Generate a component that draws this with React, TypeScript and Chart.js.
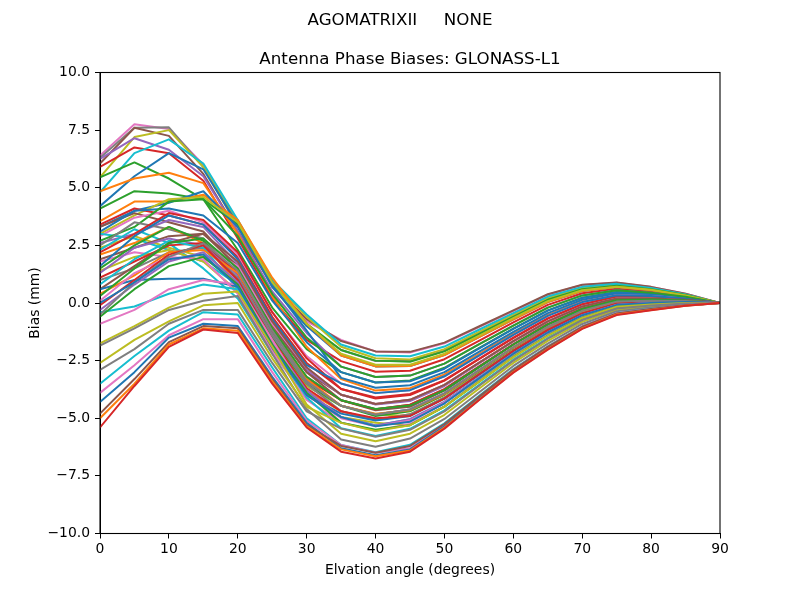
import React, { useEffect, useRef } from "react";
import { Chart, registerables } from "chart.js";

Chart.register(...registerables);

const elevation = [0, 5, 10, 15, 20, 25, 30, 35, 40, 45, 50, 55, 60, 65, 70, 75, 80, 85, 90];
const yTicks = [-10, -7.5, -5, -2.5, 0, 2.5, 5, 7.5, 10];
const xTicks = [0, 10, 20, 30, 40, 50, 60, 70, 80, 90];

// group A: high start, early peak
const a1 = [6.4, 7.75, 7.55, 6.0, 3.4, 0.9, -0.8, -1.6, -2.1, -2.15, -1.75, -1.05, -0.35, 0.36, 0.78, 0.88, 0.69, 0.4, 0];
const a2 = [6.3, 7.6, 7.62, 5.9, 3.3, 0.7, -1.0, -2.04, -2.52, -2.52, -2.07, -1.32, -0.57, 0.16, 0.61, 0.76, 0.6, 0.35, 0];
const a3 = [6.05, 7.6, 7.25, 5.6, 3.1, 0.8, -0.7, -1.65, -2.1, -2.12, -1.72, -1.02, -0.32, 0.38, 0.79, 0.89, 0.7, 0.4, 0];
const a4 = [5.45, 7.2, 7.5, 5.9, 3.5, 1.0, -0.6, -1.9, -2.4, -2.45, -2.0, -1.25, -0.5, 0.22, 0.66, 0.8, 0.63, 0.36, 0];
const a5 = [5.9, 6.75, 6.5, 5.3, 2.8, 0.2, -1.6, -2.52, -2.98, -2.94, -2.44, -1.64, -0.84, -0.08, 0.42, 0.62, 0.5, 0.3, 0];
const a6 = [6.25, 7.15, 6.65, 5.5, 3.1, 0.5, -1.3, -2.76, -3.21, -3.15, -2.63, -1.8, -0.98, -0.2, 0.33, 0.55, 0.45, 0.27, 0];
const a7 = [4.8, 6.5, 7.1, 6.05, 3.6, 1.0, -0.5, -1.8, -2.28, -2.31, -1.89, -1.16, -0.44, 0.28, 0.7, 0.83, 0.65, 0.37, 0];
const a8 = [5.45, 6.1, 5.4, 4.5, 2.3, -0.2, -2.0, -3.0, -3.45, -3.36, -2.81, -1.96, -1.11, -0.32, 0.23, 0.48, 0.4, 0.24, 0];
const a9 = [4.2, 5.5, 6.5, 5.8, 3.4, 0.7, -1.0, -2.28, -2.75, -2.73, -2.26, -1.48, -0.71, 0.04, 0.52, 0.69, 0.55, 0.32, 0];
const a10 = [4.85, 5.4, 5.65, 5.2, 3.0, 0.3, -1.9, -3.3, -3.8, -3.7, -3.1, -2.22, -1.33, -0.52, 0.07, 0.36, 0.31, 0.2, 0];

// group B
const b1 = [4.1, 4.85, 4.75, 4.5, 3.4, 0.9, -0.9, -2.04, -2.5, -2.55, -2.1, -1.35, -0.6, 0.14, 0.6, 0.75, 0.6, 0.35, 0];
const b2 = [3.55, 4.4, 4.4, 4.7, 3.6, 1.1, -0.9, -2.28, -2.75, -2.73, -2.26, -1.48, -0.71, 0.04, 0.52, 0.69, 0.55, 0.32, 0];
const b3 = [3.3, 4.0, 4.35, 4.85, 3.3, 0.8, -1.2, -3.25, -3.68, -3.57, -3.0, -2.12, -1.25, -0.44, 0.14, 0.41, 0.35, 0.22, 0];
const b4 = [3.0, 3.8, 4.5, 4.6, 3.5, 0.9, -0.9, -2.2, -2.68, -2.68, -2.2, -1.43, -0.66, 0.08, 0.55, 0.71, 0.57, 0.33, 0];
const b5 = [3.4, 4.1, 3.8, 3.4, 2.0, -0.6, -2.6, -3.73, -4.14, -3.99, -3.37, -2.44, -1.52, -0.68, -0.06, 0.27, 0.25, 0.17, 0];
const b6 = [3.3, 3.9, 3.5, 3.1, 1.5, -1.0, -3.0, -3.98, -4.38, -4.2, -3.55, -2.6, -1.65, -0.8, -0.15, 0.2, 0.2, 0.14, 0];
const b7 = [3.1, 4.0, 4.1, 3.8, 2.6, 0.1, -1.7, -3.0, -3.45, -3.4, -2.85, -1.98, -1.12, -0.33, 0.22, 0.47, 0.4, 0.24, 0];
const b8 = [2.9, 3.7, 4.0, 3.5, 2.1, -0.4, -2.3, -3.49, -3.91, -3.78, -3.18, -2.28, -1.38, -0.56, 0.04, 0.34, 0.3, 0.19, 0];
const b9 = [3.0, 2.8, 2.3, 1.8, 0.8, -1.6, -3.6, -4.46, -4.84, -4.62, -3.92, -2.92, -1.92, -1.04, -0.34, 0.06, 0.1, 0.09, 0];
const b10 = [2.7, 3.3, 4.4, 4.5, 2.9, 0.4, -1.5, -2.76, -3.21, -3.15, -2.63, -1.8, -0.98, -0.2, 0.33, 0.55, 0.45, 0.27, 0];

// group C
const c1 = [2.6, 3.0, 3.6, 3.3, 1.7, -0.9, -2.9, -3.98, -4.4, -4.25, -3.6, -2.62, -1.66, -0.8, -0.15, 0.2, 0.2, 0.14, 0];
const c2 = [2.5, 3.5, 3.2, 2.8, 1.2, -1.3, -3.2, -4.22, -4.61, -4.41, -3.74, -2.76, -1.79, -0.92, -0.25, 0.13, 0.15, 0.11, 0];
const c3 = [2.4, 2.9, 2.4, 2.0, 0.9, -1.6, -3.6, -4.46, -4.84, -4.9, -4.1, -3.0, -1.95, -1.05, -0.35, 0.05, 0.1, 0.09, 0];
const c4 = [2.3, 3.2, 2.6, 1.5, 0.2, -2.2, -4.0, -4.95, -5.31, -5.04, -4.29, -3.24, -2.19, -1.28, -0.53, -0.08, 0.0, 0.04, 0];
const c5 = [2.2, 3.0, 3.9, 3.6, 2.2, -0.4, -2.4, -3.73, -4.1, -3.95, -3.35, -2.42, -1.5, -0.67, -0.05, 0.28, 0.26, 0.17, 0];
const c6 = [2.1, 2.6, 3.3, 2.6, 0.8, -1.8, -3.8, -4.7, -5.07, -4.83, -4.11, -3.08, -2.06, -1.16, -0.44, -0.01, 0.05, 0.06, 0];
const c7 = [1.9, 2.4, 2.9, 3.0, 1.6, -1.0, -3.0, -4.22, -4.65, -4.5, -3.8, -2.8, -1.8, -0.93, -0.26, 0.12, 0.15, 0.11, 0];
const c8 = [1.8, 2.2, 2.0, 2.5, 1.6, -0.9, -2.8, -3.98, -4.38, -4.2, -3.55, -2.6, -1.65, -0.8, -0.15, 0.2, 0.2, 0.14, 0];
const c9 = [1.6, 2.9, 3.8, 3.4, 1.9, -0.7, -2.7, -3.49, -3.91, -3.78, -3.18, -2.28, -1.38, -0.56, 0.04, 0.34, 0.3, 0.19, 0];
const c10 = [1.5, 2.5, 3.3, 2.7, 1.0, -1.5, -3.5, -4.46, -4.9, -4.7, -3.98, -2.96, -1.95, -1.06, -0.36, 0.05, 0.09, 0.08, 0];

// group D
const d1 = [1.4, 2.0, 2.3, 1.8, 0.5, -2.0, -4.0, -4.95, -5.2, -5.3, -4.5, -3.35, -2.25, -1.3, -0.55, -0.09, 0.0, 0.04, 0];
const d2 = [1.3, 2.4, 2.8, 2.5, 1.2, -1.4, -3.4, -4.46, -4.84, -4.62, -3.92, -2.92, -1.92, -1.04, -0.34, 0.06, 0.1, 0.09, 0];
const d3 = [1.1, 1.8, 2.5, 2.6, 1.3, -1.2, -3.3, -4.22, -4.61, -4.41, -3.74, -2.76, -1.79, -0.92, -0.25, 0.13, 0.15, 0.11, 0];
const d4 = [1.0, 1.5, 2.2, 2.4, 1.1, -1.4, -3.5, -4.7, -5.07, -4.83, -4.11, -3.08, -2.06, -1.16, -0.44, -0.01, 0.05, 0.06, 0];
const d5 = [0.8, 1.9, 2.7, 2.4, 0.6, -1.9, -3.9, -4.95, -5.31, -5.1, -4.35, -3.28, -2.21, -1.29, -0.54, -0.08, 0.0, 0.04, 0];
const d6 = [0.6, 1.6, 2.6, 3.0, 1.8, -0.8, -2.8, -3.98, -4.38, -4.2, -3.55, -2.6, -1.65, -0.8, -0.15, 0.2, 0.2, 0.14, 0];
const d7 = [0.6, 1.0, 1.05, 1.05, 0.7, -2.0, -4.0, -4.8, -5.1, -4.9, -4.15, -3.12, -2.1, -1.2, -0.46, -0.03, 0.04, 0.05, 0];
const d8 = [0.4, 1.2, 2.2, 2.3, 1.3, -1.1, -3.3, -4.46, -4.8, -4.65, -3.95, -2.94, -1.93, -1.05, -0.35, 0.05, 0.1, 0.09, 0];
const d9 = [0.3, 1.5, 2.6, 2.8, 1.5, -1.1, -3.2, -4.22, -4.6, -4.45, -3.78, -2.78, -1.8, -0.93, -0.26, 0.12, 0.15, 0.11, 0];
const d10 = [0.1, 1.3, 2.0, 1.9, 0.4, -2.1, -4.2, -5.19, -5.54, -5.25, -4.48, -3.4, -2.33, -1.4, -0.63, -0.15, -0.05, 0.01, 0];

// group E
const e1 = [-0.4, -0.15, 0.4, 0.8, 0.6, -1.8, -4.1, -5.43, -5.77, -5.46, -4.66, -3.56, -2.46, -1.52, -0.72, -0.22, -0.1, -0.02, 0];
const e2 = [-0.1, 1.0, 2.1, 2.5, 1.0, -1.6, -3.7, -4.7, -5.0, -4.9, -4.15, -3.1, -2.07, -1.17, -0.45, -0.02, 0.05, 0.06, 0];
const e3 = [-0.3, 0.8, 1.8, 2.2, 0.9, -1.7, -3.8, -4.95, -5.31, -5.04, -4.29, -3.24, -2.19, -1.28, -0.53, -0.08, 0.0, 0.04, 0];
const e4 = [-0.9, -0.3, 0.6, 1.0, 0.8, -1.6, -4.0, -5.0, -5.35, -5.1, -4.32, -3.26, -2.2, -1.29, -0.54, -0.09, 0.0, 0.04, 0];
const e5 = [-0.6, 0.6, 1.6, 2.0, 0.8, -1.8, -3.9, -5.19, -5.5, -5.3, -4.5, -3.42, -2.34, -1.41, -0.64, -0.15, -0.05, 0.01, 0];
const e6 = [-0.5, 0.9, 2.0, 2.6, 1.4, -1.2, -3.4, -4.46, -4.84, -4.62, -3.92, -2.92, -1.92, -1.04, -0.34, 0.06, 0.1, 0.09, 0];
const e7 = [0.0, 0.9, 1.9, 2.1, 0.7, -1.9, -4.0, -4.95, -5.35, -5.15, -4.35, -3.27, -2.2, -1.28, -0.53, -0.08, 0.0, 0.04, 0];

// group F: low start, deep trough
const f1 = [-1.75, -1.0, -0.2, 0.4, 0.5, -1.9, -4.4, -5.67, -6.0, -5.67, -4.85, -3.72, -2.6, -1.64, -0.82, -0.29, -0.15, -0.04, 0];
const f2 = [-1.85, -1.1, -0.3, 0.1, 0.3, -2.2, -4.6, -5.92, -6.24, -5.88, -5.03, -3.88, -2.73, -1.76, -0.91, -0.36, -0.2, -0.07, 0];
const f3 = [-2.6, -1.6, -0.8, -0.1, 0.0, -2.4, -4.5, -5.2, -5.55, -5.3, -4.5, -3.42, -2.35, -1.42, -0.65, -0.16, -0.06, 0.0, 0];
const f4 = [-2.9, -2.0, -0.9, -0.3, -0.3, -2.6, -4.7, -5.45, -5.8, -5.5, -4.7, -3.6, -2.5, -1.55, -0.74, -0.24, -0.11, -0.02, 0];
const f5 = [-3.5, -2.3, -1.2, -0.4, -0.5, -2.8, -5.0, -6.16, -6.47, -6.15, -5.22, -4.04, -2.87, -1.88, -1.01, -0.43, -0.25, -0.1, 0];
const f6 = [-3.9, -2.7, -1.4, -0.7, -0.7, -3.0, -5.1, -6.16, -6.5, -6.3, -5.3, -4.1, -2.9, -1.9, -1.02, -0.44, -0.26, -0.1, 0];
const f7 = [-4.3, -3.0, -1.5, -0.9, -1.0, -3.2, -5.2, -6.3, -6.6, -6.35, -5.35, -4.15, -2.95, -1.96, -1.07, -0.48, -0.28, -0.11, 0];
const f8 = [-4.8, -3.3, -1.7, -1.0, -1.1, -3.3, -5.3, -6.2, -6.5, -6.2, -5.25, -4.07, -2.9, -1.9, -1.03, -0.45, -0.26, -0.1, 0];
const f9 = [-5.0, -3.5, -1.8, -1.1, -1.2, -3.4, -5.35, -6.35, -6.65, -6.4, -5.4, -4.2, -3.0, -2.0, -1.1, -0.5, -0.3, -0.12, 0];
const f10 = [-5.4, -3.6, -1.9, -1.15, -1.3, -3.5, -5.4, -6.45, -6.75, -6.45, -5.45, -4.22, -3.02, -2.02, -1.12, -0.52, -0.31, -0.12, 0];

const BLUE = "#1f77b4", ORANGE = "#ff7f0e", GREEN = "#2ca02c", RED = "#d62728", PURPLE = "#9467bd";
const BROWN = "#8c564b", PINK = "#e377c2", GREY = "#7f7f7f", OLIVE = "#bcbd22", CYAN = "#17becf";

const seriesList = [
  a1, a2, a3, a4, a5, a6, a7, a8, a9, a10,
  b1, b2, b3, b4, b5, b6, b7, b8, b9, b10,
  c1, c2, c3, c4, c5, c6, c7, c8, c9, c10,
  d1, d2, d3, d4, d5, d6, d7, d8, d9, d10,
  e1, e2, e3, e4, e5, e6, e7,
  f1, f2, f3, f4, f5, f6, f7, f8, f9, f10,
];
const seriesColors = [
  PINK, GREY, BROWN, OLIVE, RED, PURPLE, CYAN, GREEN, BLUE, ORANGE,
  GREEN, ORANGE, BLUE, OLIVE, RED, BROWN, BLUE, PINK, CYAN, GREEN,
  PURPLE, GREY, OLIVE, CYAN, RED, ORANGE, BROWN, PINK, BLUE, GREEN,
  OLIVE, PURPLE, RED, GREY, CYAN, BROWN, BLUE, ORANGE, GREEN, PINK,
  CYAN, RED, PURPLE, PINK, GREEN, GREY, BLUE,
  OLIVE, GREY, OLIVE, GREY, CYAN, PINK, BLUE, BROWN, ORANGE, RED,
];

const FONT = "'DejaVu Sans', sans-serif";

const fmt = (v: number) => {
  const s = Math.abs(v).toFixed(1);
  return v < 0 ? "\u2212" + s : s;
};

export default function App() {
  const ref = useRef<HTMLCanvasElement | null>(null);
  useEffect(() => {
    if (!ref.current) return;
    const datasets = seriesList.map((vals, i) => ({
      data: vals.map((v, j) => ({ x: elevation[j], y: v })),
      borderColor: seriesColors[i],
      backgroundColor: seriesColors[i],
      borderWidth: 2,
      pointRadius: 0,
      tension: 0,
      fill: false,
      borderJoinStyle: "round" as const,
      order: seriesList.length - i,
    }));
    const decor = {
      id: "decor",
      beforeDraw(chart: any) {
        const c = chart.ctx;
        c.save();
        c.fillStyle = "#fff";
        c.fillRect(0, 0, chart.width, chart.height);
        c.restore();
      },
      afterDraw(chart: any) {
        const c = chart.ctx;
        const a = chart.chartArea;
        c.save();
        c.strokeStyle = "#000";
        c.lineWidth = 1.1;
        c.strokeRect(a.left, a.top, a.right - a.left, a.bottom - a.top);
        c.fillStyle = "#000";
        c.textAlign = "center";
        c.textBaseline = "alphabetic";
        c.font = `16.7px ${FONT}`;
        c.fillText("AGOMATRIXII     NONE", 400, 25);
        c.fillText("Antenna Phase Biases: GLONASS-L1", (a.left + a.right) / 2, 64);
        c.font = `13.9px ${FONT}`;
        c.fillText("Elvation angle (degrees)", (a.left + a.right) / 2, 574);
        c.translate(35, (a.top + a.bottom) / 2);
        c.rotate(-Math.PI / 2);
        c.textBaseline = "middle";
        c.fillText("Bias (mm)", 0, 0);
        c.restore();
      },
    };
    const chart = new Chart(ref.current, {
      type: "line",
      data: { datasets },
      options: {
        animation: false,
        responsive: false,
        devicePixelRatio: 1,
        layout: { padding: { left: 0, right: 80, top: 72.5, bottom: 0 } },
        plugins: { legend: { display: false }, tooltip: { enabled: false }, title: { display: false } },
        scales: {
          x: {
            type: "linear",
            min: 0,
            max: 90,
            afterFit: (s: any) => { s.height = 66.5; },
            afterBuildTicks: (s: any) => { s.ticks = xTicks.map((v) => ({ value: v })); },
            ticks: { color: "#000", font: { family: FONT, size: 13.9 }, padding: 3, callback: (v: any) => String(v), maxRotation: 0, autoSkip: false },
            grid: { display: true, drawOnChartArea: false, drawTicks: true, tickLength: 5, color: "#000", lineWidth: 1 },
            border: { display: true, color: "#000", width: 1 },
          },
          y: {
            type: "linear",
            min: -10,
            max: 10,
            afterFit: (s: any) => { s.width = 100; },
            afterBuildTicks: (s: any) => { s.ticks = yTicks.map((v) => ({ value: v })); },
            ticks: { color: "#000", font: { family: FONT, size: 13.9 }, padding: 5, callback: (v: any) => fmt(Number(v)), autoSkip: false },
            grid: { display: true, drawOnChartArea: false, drawTicks: true, tickLength: 5, color: "#000", lineWidth: 1 },
            border: { display: true, color: "#000", width: 1 },
          },
        },
      },
      plugins: [decor],
    });
    return () => chart.destroy();
  }, []);
  return (
    <div style={{ position: "absolute", left: 0, top: 0, width: 800, height: 600 }}>
      <canvas ref={ref} width={800} height={600} style={{ display: "block", width: 800, height: 600 }} />
    </div>
  );
}
